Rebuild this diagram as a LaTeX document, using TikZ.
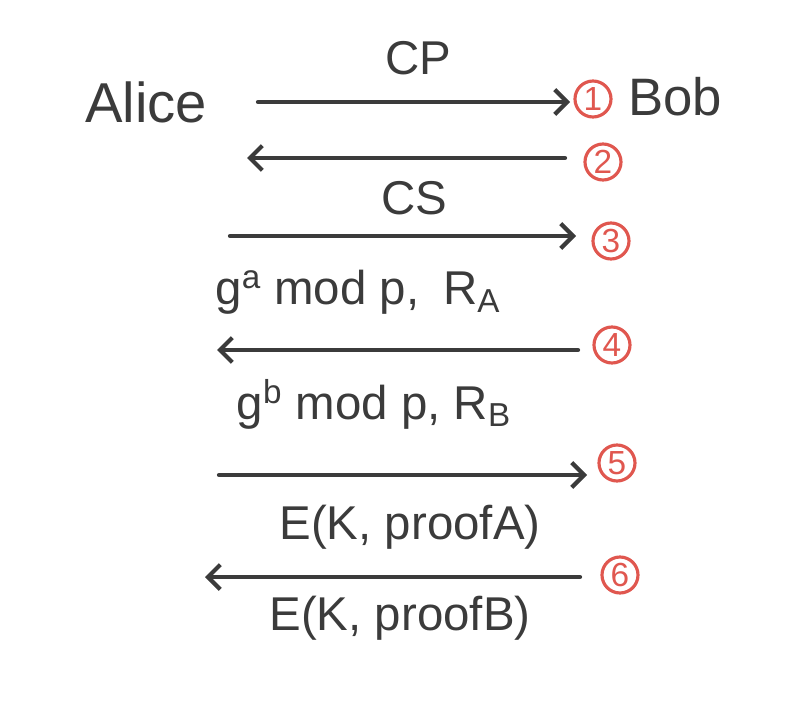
\documentclass[tikz,border=0pt]{standalone}
\usepackage{fontspec}
\setmainfont{Liberation Sans}
\usetikzlibrary{arrows.meta}
\definecolor{ink}{HTML}{3B3B3B}
\definecolor{stepred}{HTML}{E0574F}
\tikzset{
  party/.style={font=\fontsize{32}{36}\selectfont, text=ink},
  msg/.style={font=\fontsize{27}{30}\selectfont, text=ink},
  num/.style={circle, draw=stepred, line width=1.8pt, text=stepred,
    minimum size=0.72cm, inner sep=0pt, font=\fontsize{19}{20}\selectfont},
  flow/.style={draw=ink, line width=2.4pt, line cap=round,
    -{Straight Barb[length=7pt,width=14pt]}}
}

\begin{document}
\begin{tikzpicture}[x=0.02cm, y=-0.02cm]
  \useasboundingbox (0,0) rectangle (785,706);

  % the two parties
  \node[party] (alice) at (146,102) {Alice};
  \node[party, anchor=west, font=\fontsize{30}{34}\selectfont] (bob) at (622,97) {Bob};

  % step numbers
  \node[num] (n1) at (593,99) {1};
  \node[num] (n2) at (603,162) {2};
  \node[num] (n3) at (611,241) {3};
  \node[num] (n4) at (612,345) {4};
  \node[num] (n5) at (617,463) {5};
  \node[num] (n6) at (620,575) {6};

  % ends of the messages
  \coordinate (a1) at (258,102);  \coordinate (b1) at (570,102);
  \coordinate (a2) at (247,158);  \coordinate (b2) at (565,158);
  \coordinate (a3) at (230,236);  \coordinate (b3) at (576,236);
  \coordinate (a4) at (217,350);  \coordinate (b4) at (578,350);
  \coordinate (a5) at (219,475);  \coordinate (b5) at (587,475);
  \coordinate (a6) at (205,577);  \coordinate (b6) at (580,577);

  \draw[flow] (a1) -- (b1);
  \draw[flow] (b2) -- (a2);
  \draw[flow] (a3) -- (b3);
  \draw[flow] (b4) -- (a4);
  \draw[flow] (a5) -- (b5);
  \draw[flow] (b6) -- (a6);

  % message labels
  \node[msg] (cp) at (418,58) {CP};
  \node[msg] (cs) at (414,198) {CS};
  \node[msg] (ga) at (358,292) {g\textsuperscript{a} mod p,\enspace R\textsubscript{A}};
  \node[msg] (gb) at (374,404) {g\textsuperscript{b} mod p, R\textsubscript{B}};
  \node[msg] (pa) at (410,527) {E(K, proofA)};
  \node[msg] (pb) at (400,618) {E(K, proofB)};
\end{tikzpicture}
\end{document}
